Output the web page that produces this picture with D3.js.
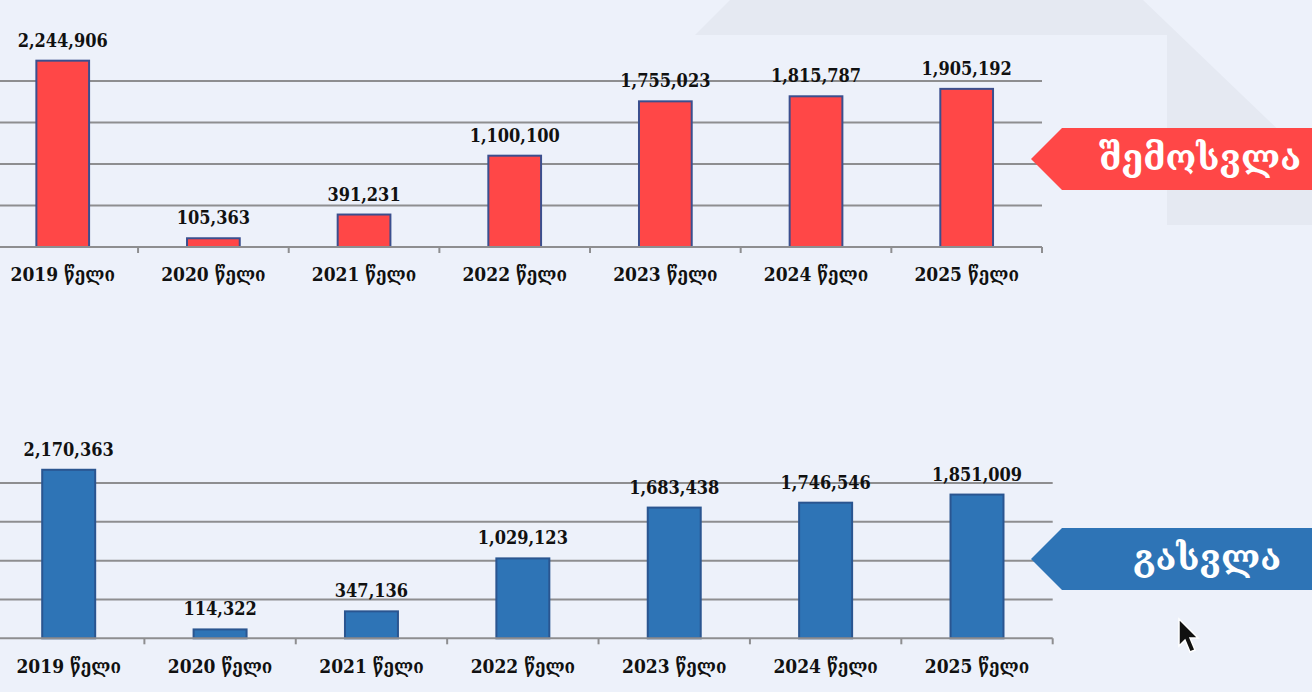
<!DOCTYPE html>
<html>
<head>
<meta charset="utf-8">
<script src="https://cdn.jsdelivr.net/npm/d3@7/dist/d3.min.js"></script>
<style>
  html, body { margin: 0; padding: 0; background: #edf1fa; overflow: hidden; }
  svg { display: block; }
  .num { font-family: 'DejaVu Serif Condensed', 'DejaVu Serif', serif; font-stretch: condensed; font-weight: bold; }
</style>
</head>
<body>
<svg id="chart" width="1312" height="692"></svg>
<script>
// ---------------- data ----------------
const categories = ["2019 წელი", "2020 წელი", "2021 წელი", "2022 წელი", "2023 წელი", "2024 წელი", "2025 წელი"];
const arrivals   = [2244906, 105363, 391231, 1100100, 1755023, 1815787, 1905192];   // შემოსვლა
const departures = [2170363, 114322, 347136, 1029123, 1683438, 1746546, 1851009];   // გასვლა
const gridTicks  = [500000, 1000000, 1500000, 2000000];
const panelTitles = ["შემოსვლა", "გასვლა"];

// ---------------- layout ----------------
const W = 1312, H = 692;
const svg = d3.select("#chart");
const fmt = d3.format(",");

// faint background decoration
svg.append("rect").attr("width", W).attr("height", H).attr("fill", "#edf1fa");
svg.append("path")
  .attr("d", d3.line()([[695,35],[730,0],[1143,0],[1312,162],[1312,225],[1167,225],[1167,35]]) + "Z")
  .attr("fill", "#e5e9f2");

const panels = [
  { values: arrivals,   x0: -12.6, x1: 1042, y0: 247,   yTop: 81,  fill: "#ff4747", stroke: "#3b4f8e",
    labelY: 281, callY: 128, callH: 62, callColor: "#ff4747", title: panelTitles[0], titleX: 1099 },
  { values: departures, x0: -7,    x1: 1052.7, y0: 638.3, yTop: 483, fill: "#2e74b6", stroke: "#2a5590",
    labelY: 673, callY: 528, callH: 62, callColor: "#2e74b6", title: panelTitles[1], titleX: 1133 }
];

panels.forEach(p => {
  const g = svg.append("g");
  const x = d3.scaleBand().domain(categories).range([p.x0, p.x1]).padding(0);
  const y = d3.scaleLinear().domain([0, 2000000]).range([p.y0, p.yTop]);
  const barRatio = 0.35;
  const bw = x.bandwidth() * barRatio;

  // gridlines
  g.append("g").selectAll("line").data(gridTicks).join("line")
    .attr("x1", 0).attr("x2", p.x1)
    .attr("y1", d => y(d)).attr("y2", d => y(d))
    .attr("stroke", "#8e8e90").attr("stroke-width", 2);

  // bars
  g.append("g").selectAll("rect").data(p.values).join("rect")
    .attr("x", (d, i) => x(categories[i]) + (x.bandwidth() - bw) / 2)
    .attr("width", bw)
    .attr("y", d => y(d))
    .attr("height", d => y(0) - y(d))
    .attr("fill", p.fill)
    .attr("stroke", p.stroke)
    .attr("stroke-width", 2);

  // x axis line + boundary ticks
  g.append("line")
    .attr("x1", 0).attr("x2", p.x1)
    .attr("y1", y(0)).attr("y2", y(0))
    .attr("stroke", "#8e8e90").attr("stroke-width", 2);
  const bounds = categories.map((c, i) => x(c) + x.bandwidth());
  g.append("g").selectAll("line").data(bounds).join("line")
    .attr("x1", d => d).attr("x2", d => d)
    .attr("y1", y(0)).attr("y2", y(0) + 6)
    .attr("stroke", "#8e8e90").attr("stroke-width", 2);

  // category labels
  g.append("g").selectAll("text").data(categories).join("text")
    .attr("class", "num")
    .attr("x", d => x(d) + x.bandwidth() / 2)
    .attr("y", p.labelY)
    .attr("text-anchor", "middle")
    .attr("font-size", 19)
    .attr("fill", "#111")
    .text(d => d);

  // value labels
  g.append("g").selectAll("text").data(p.values).join("text")
    .attr("class", "num")
    .attr("x", (d, i) => x(categories[i]) + x.bandwidth() / 2)
    .attr("y", d => y(d) - 14)
    .attr("text-anchor", "middle")
    .attr("font-size", 18)
    .attr("fill", "#111")
    .text(d => fmt(d));

  // callout arrow with title
  const tip = 1031, shoulder = 1062;
  svg.append("path")
    .attr("d", d3.line()([[tip, p.callY + p.callH / 2], [shoulder, p.callY], [W, p.callY], [W, p.callY + p.callH], [shoulder, p.callY + p.callH]]) + "Z")
    .attr("fill", p.callColor);
  svg.append("text")
    .attr("x", p.titleX)
    .attr("y", p.callY + p.callH / 2)
    .attr("dy", "0.3em")
    .attr("font-family", "'DejaVu Serif', 'DejaVu Sans', serif")
    .attr("font-weight", "bold")
    .attr("font-size", 35)
    .attr("fill", "#ffffff")
    .text(p.title);
});

// mouse pointer in the screenshot
svg.append("path")
  .attr("d", d3.line()([[1179,619],[1179,646],[1185,640],[1190,652],[1195,650],[1190,638],[1198,638]]) + "Z")
  .attr("fill", "#111").attr("stroke", "#fff").attr("stroke-width", 1.5);
</script>
</body>
</html>
